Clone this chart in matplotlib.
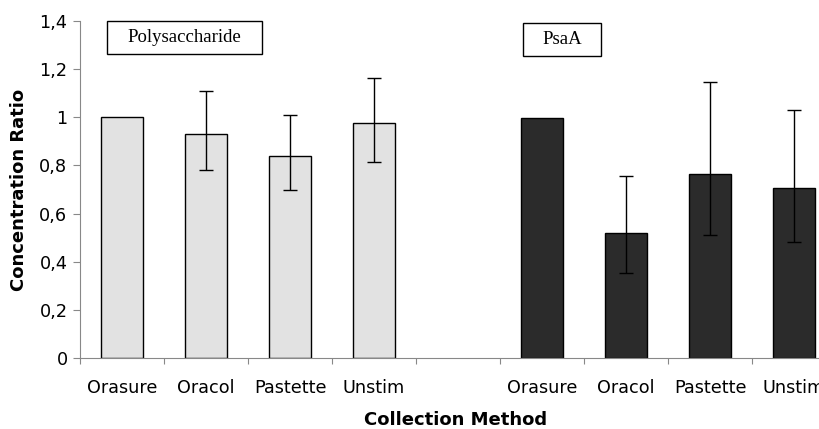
import numpy as np
import matplotlib
matplotlib.use("Agg")
import matplotlib.pyplot as plt
from matplotlib.patches import Rectangle

methods = ["Orasure", "Oracol", "Pastette", "Unstim"]

poly_vals = [1.0, 0.93, 0.84, 0.975]
poly_err_lo = [0.0, 0.15, 0.14, 0.16]
poly_err_hi = [0.0, 0.18, 0.17, 0.19]

psaa_vals = [0.995, 0.52, 0.765, 0.705]
psaa_err_lo = [0.0, 0.165, 0.255, 0.225]
psaa_err_hi = [0.0, 0.235, 0.38, 0.325]

W, H = 819, 429
fig = plt.figure(figsize=(8.19, 4.29), dpi=100)
# axes runs a little past the right edge, as in the cropped original
ax = fig.add_axes([80 / W, 1 - 358 / H, 756 / W, 337 / H])

x_poly = np.arange(4)
x_psaa = np.arange(4) + 5

ax.bar(x_poly, poly_vals, width=0.51, color="#e2e2e2", edgecolor="black", linewidth=1.0)
ax.bar(x_psaa, psaa_vals, width=0.51, color="#2b2b2b", edgecolor="black", linewidth=1.0)

# error bars only where there is an error (Orasure is the reference = 1)
for xs, vals, lo, hi in [(x_poly, poly_vals, poly_err_lo, poly_err_hi),
                         (x_psaa, psaa_vals, psaa_err_lo, psaa_err_hi)]:
    lo = np.array(lo)
    hi = np.array(hi)
    m = (lo + hi) > 0
    ax.errorbar(xs[m], np.array(vals)[m], yerr=[lo[m], hi[m]], fmt="none",
                ecolor="black", elinewidth=1.0, capsize=5, capthick=1.0)

ax.set_xlim(-0.5, 8.5)
ax.set_ylim(0, 1.4)

# y ticks with comma decimals
yt = np.arange(0, 1.41, 0.2)
ax.set_yticks(yt)
ax.set_yticklabels(["0", "0,2", "0,4", "0,6", "0,8", "1", "1,2", "1,4"], fontsize=12.7)

# category boundaries as ticks, labels at centres
ax.set_xticks(np.arange(-0.5, 9, 1))
ax.set_xticklabels([])
ax.set_xticks(list(x_poly) + list(x_psaa), minor=True)
ax.set_xticklabels(methods + methods, minor=True, fontsize=12.7)
ax.tick_params(axis="x", which="minor", length=0, pad=15)
ax.tick_params(axis="x", which="major", length=4, color="#888888")
ax.tick_params(axis="y", length=5, color="#888888", pad=4)

for s in ["top", "right"]:
    ax.spines[s].set_visible(False)
for s in ["left", "bottom"]:
    ax.spines[s].set_color("#888888")

ax.set_ylabel("Concentration Ratio", fontsize=13, fontweight="bold", labelpad=8)
fig.text(456 / W, 1 - 420 / H, "Collection Method", fontsize=13, fontweight="bold",
         ha="center", va="center")

# label boxes (pixel extents)
boxes = [("Polysaccharide", 107, 21, 262, 54), ("PsaA", 523, 23, 601, 56)]
for label, x0, y0, x1, y1 in boxes:
    fig.patches.append(Rectangle((x0 / W, 1 - y1 / H), (x1 - x0) / W, (y1 - y0) / H,
                                 transform=fig.transFigure, facecolor="white",
                                 edgecolor="black", linewidth=1.0))
    fig.text((x0 + x1) / 2 / W, 1 - (y0 + y1) / 2 / H, label, fontsize=13.5,
             family="Liberation Serif", ha="center", va="center")

fig.savefig("out.png", dpi=100)
